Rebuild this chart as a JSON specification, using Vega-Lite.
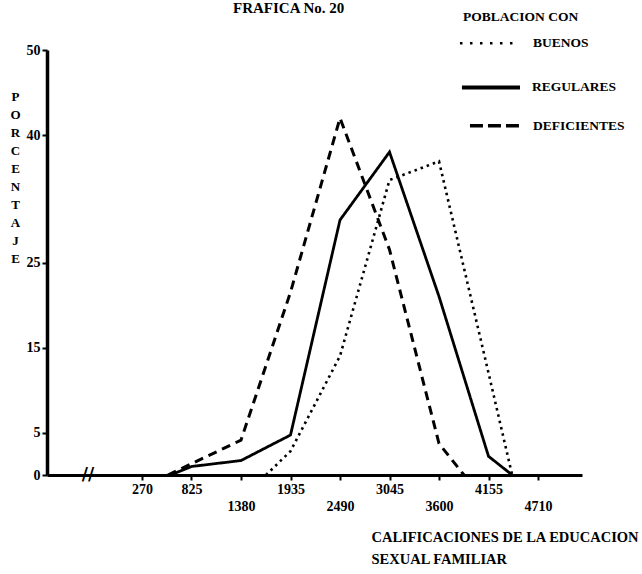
{
  "$schema": "https://vega.github.io/schema/vega-lite/v6.json",
  "width": 535,
  "height": 425,
  "autosize": "none",
  "padding": {"left": 47, "top": 50, "right": 60, "bottom": 99},
  "background": "white",
  "config": {
    "view": {"stroke": null},
    "axis": {"grid": false},
    "text": {"font": "Liberation Serif", "fontWeight": "bold", "fontSize": 13.5, "color": "black"}
  },
  "data": {
    "values": [
      {"grupo": "DEFICIENTES", "calificacion": 560, "porcentaje": 0},
      {"grupo": "DEFICIENTES", "calificacion": 1380, "porcentaje": 4.1},
      {"grupo": "DEFICIENTES", "calificacion": 1935, "porcentaje": 21.5},
      {"grupo": "DEFICIENTES", "calificacion": 2490, "porcentaje": 42.0},
      {"grupo": "DEFICIENTES", "calificacion": 3045, "porcentaje": 26.5},
      {"grupo": "DEFICIENTES", "calificacion": 3600, "porcentaje": 3.7},
      {"grupo": "DEFICIENTES", "calificacion": 3880, "porcentaje": 0},
      {"grupo": "REGULARES", "calificacion": 590, "porcentaje": 0},
      {"grupo": "REGULARES", "calificacion": 825, "porcentaje": 1.0},
      {"grupo": "REGULARES", "calificacion": 1380, "porcentaje": 1.7},
      {"grupo": "REGULARES", "calificacion": 1935, "porcentaje": 4.7},
      {"grupo": "REGULARES", "calificacion": 2490, "porcentaje": 30.0},
      {"grupo": "REGULARES", "calificacion": 3045, "porcentaje": 38.0},
      {"grupo": "REGULARES", "calificacion": 3600, "porcentaje": 21.0},
      {"grupo": "REGULARES", "calificacion": 4155, "porcentaje": 2.2},
      {"grupo": "REGULARES", "calificacion": 4420, "porcentaje": 0},
      {"grupo": "BUENOS", "calificacion": 1660, "porcentaje": 0},
      {"grupo": "BUENOS", "calificacion": 1935, "porcentaje": 2.8},
      {"grupo": "BUENOS", "calificacion": 2490, "porcentaje": 14.0},
      {"grupo": "BUENOS", "calificacion": 3045, "porcentaje": 34.7},
      {"grupo": "BUENOS", "calificacion": 3600, "porcentaje": 36.9},
      {"grupo": "BUENOS", "calificacion": 4155, "porcentaje": 12.0},
      {"grupo": "BUENOS", "calificacion": 4420, "porcentaje": 0}
    ]
  },
  "layer": [
    {
      "mark": {"type": "line", "color": "black", "strokeCap": "butt"},
      "encoding": {
        "x": {
          "field": "calificacion",
          "type": "quantitative",
          "scale": {"domain": [-795, 5203], "nice": false, "zero": false},
          "axis": {
            "values": [270, 825, 1380, 1935, 2490, 3045, 3600, 4155, 4710],
            "format": "d",
            "labelExpr": "indexof([1380, 2490, 3600, 4710], datum.value) >= 0 ? ['', datum.label] : datum.label",
            "labelLineHeight": 17,
            "labelFont": "Liberation Serif",
            "labelFontWeight": "bold",
            "labelFontSize": 14,
            "labelColor": "black",
            "labelPadding": 2,
            "labelOverlap": false,
            "labelFlush": false,
            "tickSize": 5,
            "tickWidth": 2,
            "tickColor": "black",
            "domainWidth": 3,
            "domainColor": "black",
            "title": ["CALIFICACIONES DE LA EDUCACION", "\u00a0\u00a0\u00a0\u00a0\u00a0\u00a0SEXUAL FAMILIAR"],
            "titleX": 324,
            "titleY": 55,
            "titleAlign": "left",
            "titleAnchor": "start",
            "titleBaseline": "top",
            "titleLineHeight": 22,
            "titleFont": "Liberation Serif",
            "titleFontWeight": "bold",
            "titleFontSize": 14.5,
            "titleColor": "black"
          }
        },
        "y": {
          "field": "porcentaje",
          "type": "quantitative",
          "scale": {"domain": [0, 50], "nice": false, "zero": true},
          "axis": {
            "values": [0, 5, 15, 25, 40, 50],
            "format": "d",
            "labelFont": "Liberation Serif",
            "labelFontWeight": "bold",
            "labelFontSize": 14,
            "labelColor": "black",
            "labelPadding": 2,
            "labelOverlap": false,
            "labelFlush": false,
            "tickSize": 5,
            "tickWidth": 2,
            "tickColor": "black",
            "domainWidth": 3.5,
            "domainColor": "black",
            "title": ["P", "O", "R", "C", "E", "N", "T", "A", "J", "E"],
            "titleAngle": 0,
            "titleX": -32,
            "titleY": 40,
            "titleAlign": "center",
            "titleBaseline": "top",
            "titleLineHeight": 18,
            "titleFont": "Liberation Serif",
            "titleFontWeight": "bold",
            "titleFontSize": 13,
            "titleColor": "black"
          }
        },
        "strokeDash": {
          "field": "grupo",
          "type": "nominal",
          "scale": {"domain": ["BUENOS", "REGULARES", "DEFICIENTES"], "range": [[2.5, 4], [1, 0], [9, 6]]},
          "legend": null
        },
        "strokeWidth": {
          "field": "grupo",
          "type": "nominal",
          "scale": {"domain": ["BUENOS", "REGULARES", "DEFICIENTES"], "range": [2.6, 3, 3]},
          "legend": null
        }
      }
    },
    {
      "data": {"values": [{}]},
      "mark": {"type": "text", "text": "FRAFICA No. 20", "align": "left", "baseline": "middle", "fontSize": 15},
      "encoding": {"x": {"datum": 1290}, "y": {"datum": 54.9}}
    },
    {
      "data": {"values": [{}]},
      "mark": {"type": "text", "text": "//", "fontSize": 17, "font": "DejaVu Sans", "fontWeight": "bold", "baseline": "middle", "align": "center"},
      "encoding": {"x": {"datum": -335}, "y": {"datum": 0}}
    },
    {
      "data": {"values": [{}]},
      "mark": {"type": "text", "text": "POBLACION CON", "align": "left", "baseline": "middle"},
      "encoding": {"x": {"datum": 3869}, "y": {"datum": 53.9}}
    },
    {
      "data": {"values": [{}]},
      "mark": {"type": "rule", "color": "black", "strokeWidth": 2.5, "strokeDash": [2.5, 7.5]},
      "encoding": {"x": {"datum": 3835}, "x2": {"datum": 4486}, "y": {"datum": 50.8}}
    },
    {
      "data": {"values": [{}]},
      "mark": {"type": "text", "text": "BUENOS", "align": "left", "baseline": "middle"},
      "encoding": {"x": {"datum": 4654}, "y": {"datum": 50.8}}
    },
    {
      "data": {"values": [{}]},
      "mark": {"type": "rule", "color": "black", "strokeWidth": 4},
      "encoding": {"x": {"datum": 3857}, "x2": {"datum": 4508}, "y": {"datum": 45.6}}
    },
    {
      "data": {"values": [{}]},
      "mark": {"type": "text", "text": "REGULARES", "align": "left", "baseline": "middle"},
      "encoding": {"x": {"datum": 4643}, "y": {"datum": 45.6}}
    },
    {
      "data": {"values": [{}]},
      "mark": {"type": "rule", "color": "black", "strokeWidth": 3.5, "strokeDash": [13, 5]},
      "encoding": {"x": {"datum": 3947}, "x2": {"datum": 4530}, "y": {"datum": 41.1}}
    },
    {
      "data": {"values": [{}]},
      "mark": {"type": "text", "text": "DEFICIENTES", "align": "left", "baseline": "middle"},
      "encoding": {"x": {"datum": 4654}, "y": {"datum": 41.1}}
    }
  ]
}
